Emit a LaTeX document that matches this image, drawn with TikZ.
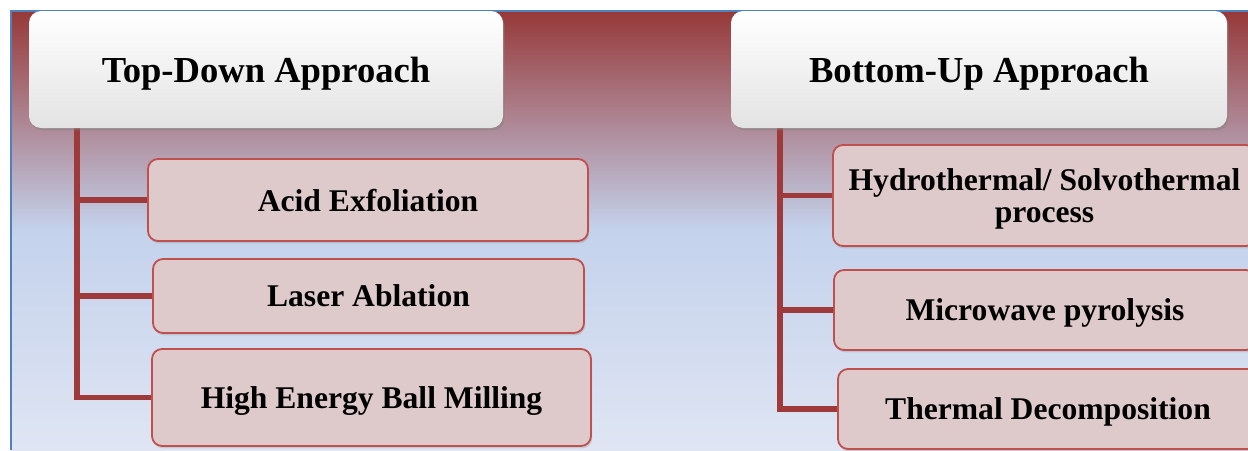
\documentclass[tikz,border=0pt]{standalone}
\usepackage{fontspec}
\setmainfont{Liberation Serif}
\usetikzlibrary{shadows}
\definecolor{myblue}{RGB}{79,129,189}
\definecolor{myred}{RGB}{192,80,77}
\definecolor{mytrunk}{RGB}{158,58,58}
\definecolor{mypink}{RGB}{222,201,203}
\definecolor{mytop}{RGB}{150,56,56}
\definecolor{mymid}{RGB}{196,210,236}
\definecolor{mybot}{RGB}{223,229,243}

\begin{document}
\begin{tikzpicture}[x=0.5pt,y=-0.5pt,
          head/.style={rounded corners=6pt,top color=white,bottom color=gray!22,
                       minimum height=58.5pt,text depth=0pt,
                       font=\fontsize{18.3}{20}\selectfont\bfseries,
                       drop shadow={opacity=.45,shadow xshift=.8pt,shadow yshift=-1.2pt}},
          box/.style={draw=myred,line width=0.9pt,fill=mypink,rounded corners=5pt,
                      align=center,text depth=0pt,
                      font=\fontsize{15.8}{16}\selectfont\bfseries,
                      drop shadow={opacity=.25,shadow xshift=.6pt,shadow yshift=-1.2pt}},
          trunk/.style={mytrunk,line width=2.6pt}]
        \useasboundingbox (0,0) rectangle (1248,450);
        \fill[white] (0,0) rectangle (1248,450);
        \shade[top color=mytop,bottom color=mybot,middle color=mymid]
          (11,10) rectangle (1248,450);
        \draw[myblue,line width=1pt] (10.5,450) -- (10.5,10.5) -- (1248,10.5);
        % the two approaches
        \coordinate (ltrunk) at (77,128);
        \coordinate (rtrunk) at (780,128);
        \node[box,minimum width=220pt,minimum height=41pt](acid) at (368,200)
          {Acid Exfoliation};
        \node[box,minimum width=215.5pt,minimum height=37pt](laser) at (368.5,296)
          {Laser Ablation};
        \node[box,minimum width=219.5pt,minimum height=48.5pt](ball) at (371.5,397.5)
          {High Energy Ball Milling};
        \node[box,minimum width=211.5pt,minimum height=50.5pt](hydro) at (1044.5,195.5)
          {Hydrothermal/ Solvothermal\\process};
        \node[box,minimum width=211pt,minimum height=40pt](micro) at (1045,310)
          {Microwave pyrolysis};
        \node[box,minimum width=210pt,minimum height=40pt](therm) at (1048,409)
          {Thermal Decomposition};
        \draw[trunk](ltrunk) |- (ball.west);
        \draw[trunk](ltrunk |- acid.west) -- (acid.west);
        \draw[trunk](ltrunk |- laser.west) -- (laser.west);
        \draw[trunk](rtrunk) |- (therm.west);
        \draw[trunk](rtrunk |- hydro.west) -- (hydro.west);
        \draw[trunk](rtrunk |- micro.west) -- (micro.west);
        \node[head,minimum width=237pt](topdown) at (266,69.5)
          {Top-Down Approach};
        \node[head,minimum width=248pt](bottomup) at (979,69.5)
          {Bottom-Up Approach};
      \end{tikzpicture}
\end{document}
